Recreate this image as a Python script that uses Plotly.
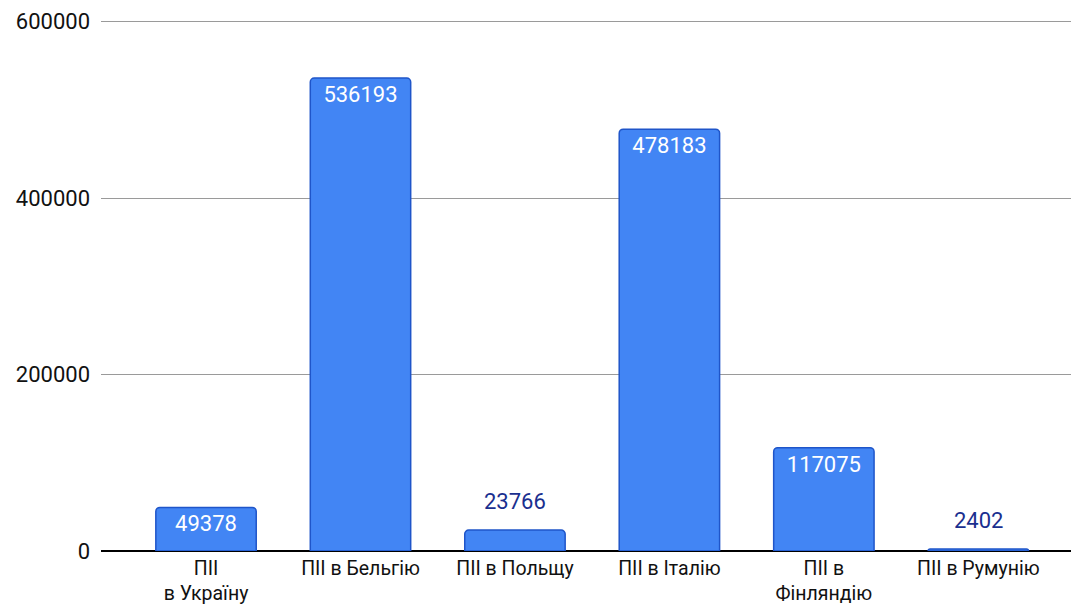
import plotly.graph_objects as go

categories = ["ПІІ<br>в Україну", "ПІІ в Бельгію", "ПІІ в Польщу", "ПІІ в Італію", "ПІІ в<br>Фінляндію", "ПІІ в Румунію"]
values = [49378, 536193, 23766, 478183, 117075, 2402]
inside = [True, True, False, True, True, False]
y_ticks = [0, 200000, 400000, 600000]

fig = go.Figure()
fig.add_trace(go.Bar(
    x=list(range(len(categories))),
    y=values,
    text=[str(v) if ins else "" for v, ins in zip(values, inside)],
    textposition="inside",
    insidetextanchor="end",
    textangle=0,
    insidetextfont=dict(color="white", size=22, family="Roboto"),
    marker=dict(color="#4285F4", line=dict(color="#1f55c9", width=1.5), cornerradius=4),
    cliponaxis=False,
))
for i, (v, ins) in enumerate(zip(values, inside)):
    if not ins:
        fig.add_annotation(x=i, y=v, text=str(v), showarrow=False, yanchor="bottom", yshift=14,
                           font=dict(color="#1a2f8f", size=22, family="Roboto"))

fig.update_layout(
    width=1071, height=606,
    margin=dict(l=101, r=0, t=20, b=55),
    plot_bgcolor="white", paper_bgcolor="white",
    bargap=0.35,
    showlegend=False,
    font=dict(family="Roboto", size=22, color="#000"),
)
fig.update_xaxes(
    range=[-0.68, 5.6], automargin=False,
    tickmode="array", tickvals=list(range(len(categories))), ticktext=categories,
    showgrid=False, ticks="", ticklabelstandoff=3, tickfont=dict(size=19.5, color="#111"),
)
fig.update_yaxes(
    range=[0, 602000], automargin=False, tickmode="array", tickvals=y_ticks, ticktext=[str(t) for t in y_ticks],
    showgrid=True, gridcolor="#9a9a9a", gridwidth=1.3,
    zeroline=True, zerolinecolor="#000", zerolinewidth=1.5,
    ticks="", ticklabelstandoff=10, tickfont=dict(size=22, color="#111"),
)
fig.write_html("out.html", config={"displayModeBar": False},
               post_script="document.body.style.margin='0';document.body.style.overflow='hidden';")
